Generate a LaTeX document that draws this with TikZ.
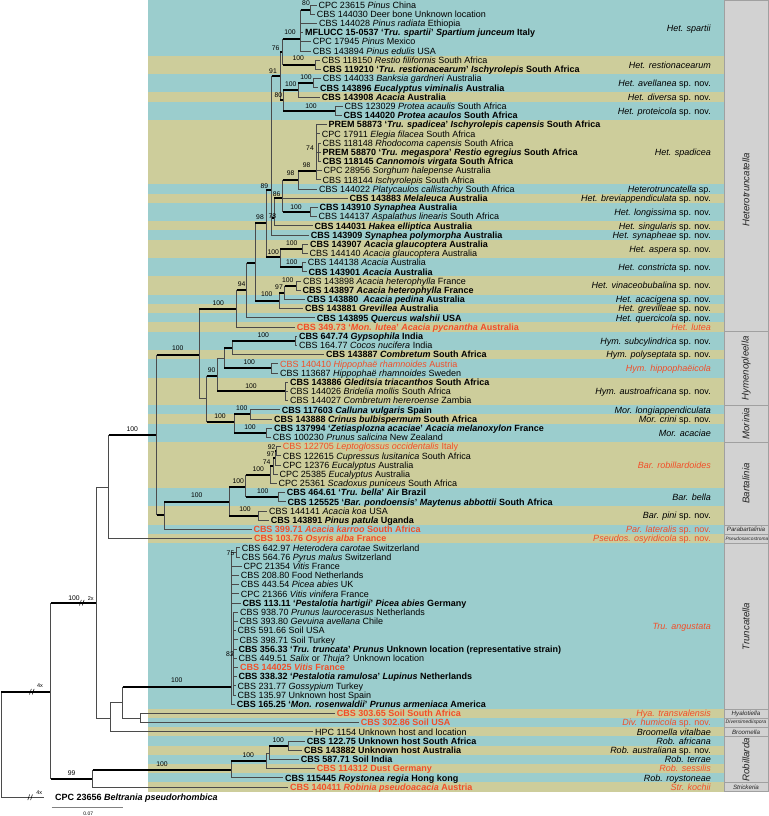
\documentclass[tikz,border=0pt]{standalone}
\usepackage{fontspec}
\setmainfont{Liberation Sans}
\definecolor{bandB}{RGB}{155,205,205}
\definecolor{bandK}{RGB}{205,205,155}
\definecolor{redt}{RGB}{242,78,40}
\definecolor{colg}{RGB}{210,210,210}
\definecolor{colline}{RGB}{160,160,160}
\definecolor{treeg}{RGB}{75,75,75}
\tikzset{
  tl/.style={anchor=base west, inner sep=0pt, font=\fontsize{9}{10}\selectfont},
  gl/.style={anchor=base east, inner sep=0pt, font=\fontsize{9}{10}\selectfont},
  bsl/.style={inner sep=0pt, font=\fontsize{6.8}{7}\selectfont},
  tk/.style={line width=2pt, black},
  tn/.style={line width=0.75pt, treeg},
  gen/.style={inner sep=0pt, font=\fontsize{9.7}{10}\selectfont\itshape, text=black!85},
  gens/.style={inner sep=0pt, font=\fontsize{6.2}{7}\selectfont\itshape, text=black!85},
  smallx/.style={inner sep=0pt, font=\fontsize{5.5}{6}\selectfont}
}
\newcommand\tax[3]{%
  \pgfmathsetmacro\ry{5+(#1-1)*9.2}%
  \node[tl] (t#1) at (#2,\ry+3.2) {#3};%
  \coordinate (p#1) at (#2-1.6,\ry);}
\newcommand\grp[4][black]{%
  \pgfmathsetmacro\gy{5+((#2+#3)/2-1)*9.2}%
  \node[gl,text=#1] (g#2) at (711,\gy+3.2) {#4};}
\newcommand\kband[2]{\fill[bandK] (147.7,{0.4+(#1-1)*9.2}) rectangle (724.3,{0.4+#2*9.2});}
\newcommand\gbox[2]{\draw[fill=colg, draw=colline, line width=0.6pt] (724.3,{0.4+(#1-1)*9.2}) rectangle (768.5,{0.4+#2*9.2});}
\newcommand\bsv[4]{\node[bsl] (b#1) at (#2,#3) {#4};}
\newcommand\thn[2]{\draw[tn] (#1) |- (#2);}
\newcommand\thk[2]{\draw[tn] (#1) -- (#1 |- #2); \draw[tk] (#1 |- #2) -- (#2);}
\newcommand\brk[2]{\draw[black, line width=0.5pt] (#1-2.2,#2+2.8) -- (#1-0.4,#2-2.8) (#1+0.6,#2+2.8) -- (#1+2.4,#2-2.8);}
\newcommand\snov{ sp. nov.}
\begin{document}
\begin{tikzpicture}[x=1pt,y=-1pt]
\useasboundingbox (0,0) rectangle (768,816);
% bands
\fill[bandB] (147.7,0.4) rectangle (724.3,791.6);
\kband{7}{8}\kband{11}{11}\kband{14}{20}\kband{22}{22}\kband{25}{25}
\kband{27}{28}\kband{31}{32}\kband{34}{34}\kband{36}{36}\kband{39}{39}
\kband{42}{44}\kband{46}{46}\kband{49}{53}\kband{56}{57}\kband{59}{59}
\kband{78}{78}\kband{80}{80}\kband{82}{82}\kband{84}{84}\kband{86}{86}
% genus column
\gbox{1}{36}\gbox{37}{44}\gbox{45}{48}\gbox{49}{57}\gbox{58}{58}\gbox{59}{59}
\gbox{60}{77}\gbox{78}{78}\gbox{79}{79}\gbox{80}{80}\gbox{81}{85}\gbox{86}{86}
\node[gen, rotate=90] (gHet) at (746,190) {Heterotruncatella};
\node[gen, rotate=90] (gHym) at (746,368.5) {Hymenopleella};
\node[gen, rotate=90] (gMor) at (746,423.6) {Morinia};
\node[gen, rotate=90] (gBar) at (746,483.6) {Bartalinia};
\node[gen, rotate=90] (gTru) at (746,626.4) {Truncatella};
\node[gen, rotate=90] (gRob) at (746,759.8) {Robillarda};
\node[gens] (gPar) at (746,529.4) {Parabartalinia};
\node[gens, font=\fontsize{4.8}{5}\selectfont\itshape, anchor=west] (gPse) at (725.3,538.6) {Pseudosarcostroma};
\node[gens] (gHya) at (746,713.4) {Hyalotiella};
\node[gens, font=\fontsize{5.1}{6}\selectfont\itshape] (gDiv) at (746,722.6) {Diversimediispora};
\node[gens] (gBro) at (746,731.8) {Broomella};
\node[gens] (gStr) at (746,787) {Strickeria};
% taxa
\tax{1}{318.3}{CPC 23615 \textit{Pinus} China}
\tax{2}{316.7}{CBS 144030 Deer bone Unknown location}
\tax{3}{319}{CBS 144028 \textit{Pinus radiata} Ethiopia}
\tax{4}{305}{\textbf{MFLUCC 15-0537 ‘\textit{Tru. spartii}’ \textit{Spartium junceum} Italy}}
\tax{5}{312.7}{CPC 17945 \textit{Pinus} Mexico}
\tax{6}{312.7}{CBS 143894 \textit{Pinus edulis} USA}
\tax{7}{321.7}{CBS 118150 \textit{Restio filiformis} South Africa}
\tax{8}{322.7}{\textbf{CBS 119210 ‘\textit{Tru. restionacearum}’ \textit{Ischyrolepis} South Africa}}
\tax{9}{322.7}{CBS 144033 \textit{Banksia gardneri} Australia}
\tax{10}{320}{\textbf{CBS 143896 \textit{Eucalyptus viminalis} Australia}}
\tax{11}{321.7}{\textbf{CBS 143908 \textit{Acacia} Australia}}
\tax{12}{344.3}{CBS 123029 \textit{Protea acaulis} South Africa}
\tax{13}{343.3}{\textbf{CBS 144020 \textit{Protea acaulos} South Africa}}
\tax{14}{328.3}{\textbf{PREM 58873 ‘\textit{Tru. spadicea}’ \textit{Ischyrolepis capensis} South Africa}}
\tax{15}{321.7}{CPC 17911 \textit{Elegia filacea} South Africa}
\tax{16}{322.3}{CBS 118148 \textit{Rhodocoma capensis} South Africa}
\tax{17}{322.3}{\textbf{PREM 58870 ‘\textit{Tru. megaspora}’ \textit{Restio egregius} South Africa}}
\tax{18}{322.3}{\textbf{CBS 118145 \textit{Cannomois virgata} South Africa}}
\tax{19}{323.3}{CPC 28956 \textit{Sorghum halepense} Australia}
\tax{20}{322.3}{CBS 118144 \textit{Ischyrolepis} South Africa}
\tax{21}{319}{CBS 144022 \textit{Platycaulos callistachy} South Africa}
\tax{22}{349.3}{\textbf{CBS 143883 \textit{Melaleuca} Australia}}
\tax{23}{319.3}{\textbf{CBS 143910 \textit{Synaphea} Australia}}
\tax{24}{318.3}{CBS 144137 \textit{Aspalathus linearis} South Africa}
\tax{25}{314.3}{\textbf{CBS 144031 \textit{Hakea elliptica} Australia}}
\tax{26}{310.7}{\textbf{CBS 143909 \textit{Synaphea polymorpha} Australia}}
\tax{27}{310}{\textbf{CBS 143907 \textit{Acacia glaucoptera} Australia}}
\tax{28}{309.3}{CBS 144140 \textit{Acacia glaucoptera} Australia}
\tax{29}{307.7}{CBS 144138 \textit{Acacia} Australia}
\tax{30}{308.3}{\textbf{CBS 143901 \textit{Acacia} Australia}}
\tax{31}{303}{CBS 143898 \textit{Acacia heterophylla} France}
\tax{32}{302.3}{\textbf{CBS 143897 \textit{Acacia heterophylla} France}}
\tax{33}{306.7}{\textbf{CBS 143880 \ \textit{Acacia pedina} Australia}}
\tax{34}{305}{\textbf{CBS 143881 \textit{Grevillea} Australia}}
\tax{35}{316.7}{\textbf{CBS 143895 \textit{Quercus walshii} USA}}
\tax{36}{296.7}{\color{redt}\textbf{CBS 349.73 ‘\textit{Mon. lutea}’ \textit{Acacia pycnantha} Australia}}
\tax{37}{299}{\textbf{CBS 647.74 \textit{Gypsophila} India}}
\tax{38}{299}{CBS 164.77 \textit{Cocos nucifera} India}
\tax{39}{326}{\textbf{CBS 143887 \textit{Combretum} South Africa}}
\tax{40}{280}{\color{redt}CBS 140410 \textit{Hippophaë rhamnoides} Austria}
\tax{41}{280}{CBS 113687 \textit{Hippophaë rhamnoides} Sweden}
\tax{42}{290}{\textbf{CBS 143886 \textit{Gleditsia triacanthos} South Africa}}
\tax{43}{290}{CBS 144026 \textit{Bridelia mollis} South Africa}
\tax{44}{290}{CBS 144027 \textit{Combretum hereroense} Zambia}
\tax{45}{281.7}{\textbf{CBS 117603 \textit{Calluna vulgaris} Spain}}
\tax{46}{274}{\textbf{CBS 143888 \textit{Crinus bulbispermum} South Africa}}
\tax{47}{274}{\textbf{CBS 137994 ‘\textit{Zetiasplozna acaciae}’ \textit{Acacia melanoxylon} France}}
\tax{48}{272.7}{CBS 100230 \textit{Prunus salicina} New Zealand}
\tax{49}{282.7}{\color{redt}CBS 122705 \textit{Leptoglossus occidentalis} Italy}
\tax{50}{282.7}{CBS 122615 \textit{Cupressus lusitanica} South Africa}
\tax{51}{282.7}{CPC 12376 \textit{Eucalyptus} Australia}
\tax{52}{279.3}{CPC 25385 \textit{Eucalyptus} Australia}
\tax{53}{278.3}{CPC 25361 \textit{Scadoxus puniceus} South Africa}
\tax{54}{286.7}{\textbf{CBS 464.61 ‘\textit{Tru. bella}’ Air Brazil}}
\tax{55}{287.3}{\textbf{CBS 125525 ‘\textit{Bar. pondoensis}’ \textit{Maytenus abbottii} South Africa}}
\tax{56}{269}{CBS 144141 \textit{Acacia koa} USA}
\tax{57}{270.7}{\textbf{CBS 143891 \textit{Pinus patula} Uganda}}
\tax{58}{253.3}{\color{redt}\textbf{CBS 399.71 \textit{Acacia karroo} South Africa}}
\tax{59}{254}{\color{redt}\textbf{CBS 103.76 \textit{Osyris alba} France}}
\tax{60}{241.7}{CBS 642.97 \textit{Heterodera carotae} Switzerland}
\tax{61}{241.7}{CBS 564.76 \textit{Pyrus malus} Switzerland}
\tax{62}{243.3}{CPC 21354 \textit{Vitis} France}
\tax{63}{240.7}{CBS 208.80 Food Netherlands}
\tax{64}{240.7}{CBS 443.54 \textit{Picea abies} UK}
\tax{65}{240.7}{CPC 21366 \textit{Vitis vinifera} France}
\tax{66}{242.3}{\textbf{CBS 113.11 ‘\textit{Pestalotia hartigii}’ \textit{Picea abies} Germany}}
\tax{67}{240}{CBS 938.70 \textit{Prunus laurocerasus} Netherlands}
\tax{68}{239.3}{CBS 393.80 \textit{Gevuina avellana} Chile}
\tax{69}{237.3}{CBS 591.66 Soil USA}
\tax{70}{239.3}{CBS 398.71 Soil Turkey}
\tax{71}{238.3}{\textbf{CBS 356.33 ‘\textit{Tru. truncata}’ \textit{Prunus} Unknown location (representative strain)}}
\tax{72}{238.3}{CBS 449.51 \textit{Salix} or \textit{Thuja}? Unknown location}
\tax{73}{240}{\color{redt}\textbf{CBS 144025 \textit{Vitis} France}}
\tax{74}{238.3}{\textbf{CBS 338.32 ‘\textit{Pestalotia ramulosa}’ \textit{Lupinus} Netherlands}}
\tax{75}{237.3}{CBS 231.77 \textit{Gossypium} Turkey}
\tax{76}{237.3}{CBS 135.97 Unknown host Spain}
\tax{77}{236.7}{\textbf{CBS 165.25 ‘\textit{Mon. rosenwaldii}’ \textit{Prunus armeniaca} America}}
\tax{78}{336.7}{\color{redt}\textbf{CBS 303.65 Soil South Africa}}
\tax{79}{360.7}{\color{redt}\textbf{CBS 302.86 Soil USA}}
\tax{80}{315}{HPC 1154 Unknown host and location}
\tax{81}{306.7}{\textbf{CBS 122.75 Unknown host South Africa}}
\tax{82}{304}{\textbf{CBS 143882 Unknown host Australia}}
\tax{83}{300.7}{\textbf{CBS 587.71 Soil India}}
\tax{84}{316.7}{\color{redt}\textbf{CBS 114312 Dust Germany}}
\tax{85}{285}{\textbf{CBS 115445 \textit{Roystonea regia} Hong kong}}
\tax{86}{290}{\color{redt}\textbf{CBS 140411 \textit{Robinia pseudoacacia} Austria}}
\node[tl] (t87) at (55,800.5) {\textbf{CPC 23656 \textit{Beltrania pseudorhombica}}};
\coordinate (p87) at (44,797.3);
% species labels
\grp{1}{6}{\textit{Het. spartii}}
\grp{7}{8}{\textit{Het. restionacearum}}
\grp{9}{10}{\textit{Het. avellanea}\snov}
\grp{11}{11}{\textit{Het. diversa}\snov}
\grp{12}{13}{\textit{Het. proteicola}\snov}
\grp{14}{20}{\textit{Het. spadicea}}
\grp{21}{21}{\textit{Heterotruncatella} sp.}
\grp{22}{22}{\textit{Het. breviappendiculata}\snov}
\grp{23}{24}{\textit{Het. longissima}\snov}
\grp{25}{25}{\textit{Het. singularis}\snov}
\grp{26}{26}{\textit{Het. synapheae}\snov}
\grp{27}{28}{\textit{Het. aspera}\snov}
\grp{29}{30}{\textit{Het. constricta}\snov}
\grp{31}{32}{\textit{Het. vinaceobubalina}\snov}
\grp{33}{33}{\textit{Het. acacigena}\snov}
\grp{34}{34}{\textit{Het. grevilleae}\snov}
\grp{35}{35}{\textit{Het. quercicola}\snov}
\grp[redt]{36}{36}{\textit{Het. lutea}}
\grp{37}{38}{\textit{Hym. subcylindrica}\snov}
\grp{39}{39}{\textit{Hym. polyseptata}\snov}
\grp[redt]{40}{41}{\textit{Hym. hippophaëicola}}
\grp{42}{44}{\textit{Hym. austroafricana}\snov}
\grp{45}{45}{\textit{Mor. longiappendiculata}}
\grp{46}{46}{\textit{Mor. crini}\snov}
\grp{47}{48}{\textit{Mor. acaciae}}
\grp[redt]{49}{53}{\textit{Bar. robillardoides}}
\grp{54}{55}{\textit{Bar. bella}}
\grp{56}{57}{\textit{Bar. pini}\snov}
\grp[redt]{58}{58}{\textit{Par. lateralis}\snov}
\grp[redt]{59}{59}{\textit{Pseudos. osyridicola}\snov}
\grp[redt]{60}{77}{\textit{Tru. angustata}}
\grp[redt]{78}{78}{\textit{Hya. transvalensis}}
\grp[redt]{79}{79}{\textit{Div. humicola}\snov}
\grp{80}{80}{\textit{Broomella vitalbae}}
\grp{81}{81}{\textit{Rob. africana}}
\grp{82}{82}{\textit{Rob. australiana}\snov}
\grp{83}{83}{\textit{Rob. terrae}}
\grp[redt]{84}{84}{\textit{Rob. sessilis}}
\grp{85}{85}{\textit{Rob. roystoneae}}
\grp[redt]{86}{86}{\textit{Str. kochii}}
% internal nodes
\coordinate (R) at (1,744.5);
\coordinate (I1) at (50.7,691.7);
\coordinate (I2) at (96.7,602.7);
\coordinate (Rb) at (92.7,779);
\coordinate (I3) at (108.7,487.3);
\coordinate (I4) at (110.7,718.3);
\coordinate (I5) at (156.7,435);
\coordinate (HM) at (199.3,355);
\coordinate (I6) at (164.3,515);
\coordinate (B1) at (229,501.7);
\coordinate (B2) at (245.7,486.7);
\coordinate (B3) at (270,475);
\coordinate (N74) at (273.3,466.2);
\coordinate (N97) at (275,458.1);
\coordinate (N92) at (276.7,451.2);
\coordinate (Bbe) at (278.3,497.2);
\coordinate (B4) at (258.3,515.6);
\coordinate (H0) at (236.7,309.3);
\coordinate (H94) at (246.7,290);
\coordinate (Ha) at (255,263.3);
\coordinate (N98a) at (266,223.3);
\coordinate (AC) at (280,257);
\coordinate (Nasp) at (302.7,248.8);
\coordinate (Ncon) at (302.7,267.2);
\coordinate (N100h) at (279,300.7);
\coordinate (N97h) at (284.5,292.5);
\coordinate (Nvin) at (296.7,285.6);
\coordinate (N89) at (271.7,190);
\coordinate (N91) at (280,76);
\coordinate (N76) at (282.7,52);
\coordinate (hP) at (300.7,39.3);
\coordinate (hA) at (310.7,9.6);
\coordinate (Nres) at (315.7,64.8);
\coordinate (N80) at (283.3,100);
\coordinate (Nav) at (298.3,90);
\coordinate (Nav2) at (313.3,83.2);
\coordinate (Npro) at (335.7,110.8);
\coordinate (N78) at (274.3,218);
\coordinate (N86) at (282.7,198.3);
\coordinate (Nlon) at (310.7,212);
\coordinate (N98u) at (298.3,180);
\coordinate (S) at (316,171);
\coordinate (S74) at (318.3,152.2);
\coordinate (HymMor) at (206.7,398.3);
\coordinate (Hy) at (217.3,375.5);
\coordinate (HyB) at (224,358.3);
\coordinate (HyA) at (232.3,348.3);
\coordinate (Nsub) at (295.7,340.8);
\coordinate (Nhip) at (271,368.4);
\coordinate (Nau) at (285,391.4);
\coordinate (Mo) at (234,421.7);
\coordinate (Nlc) at (250,414.4);
\coordinate (Nac) at (266.7,432.8);
\coordinate (I7) at (122.7,702.7);
\coordinate (I8) at (140,718);
\coordinate (T) at (231.5,686.7);
\coordinate (T75) at (236,552.4);
\coordinate (T82) at (233.3,654);
\coordinate (Rb2) at (231,770);
\coordinate (Rb3) at (266,761);
\coordinate (Rb3b) at (269.3,753.3);
\coordinate (Rb4) at (288.3,745.6);
% edges
\thk{R}{I1} \thn{R}{p87}
\thk{I1}{I2} \thk{I1}{Rb}
\thn{I2}{I3} \thn{I2}{I4}
\thk{I3}{I5} \thn{I3}{p59}
\thk{I5}{HM} \thk{I5}{I6}
\thk{I6}{B1} \thn{I6}{p58}
\thk{B1}{B2} \thk{B1}{B4}
\thk{B2}{B3} \thk{B2}{Bbe}
\thk{B3}{N74} \thn{B3}{p53}
\thk{N74}{N97} \thn{N74}{p52}
\thk{N97}{N92} \thn{N97}{p51}
\thn{N92}{p49} \thn{N92}{p50}
\thn{Bbe}{p54} \thn{Bbe}{p55}
\thn{B4}{p56} \thn{B4}{p57}
\thk{HM}{H0} \thn{HM}{HymMor}
\thk{H0}{H94} \thn{H0}{p36}
\thk{H94}{Ha} \thn{H94}{p35}
\thk{Ha}{N98a} \thk{Ha}{N100h}
\thk{N98a}{N89} \thk{N98a}{AC}
\thk{AC}{Nasp} \thk{AC}{Ncon}
\thn{Nasp}{p27} \thn{Nasp}{p28}
\thn{Ncon}{p29} \thn{Ncon}{p30}
\thk{N100h}{N97h} \thn{N100h}{p34}
\thk{N97h}{Nvin} \thn{N97h}{p33}
\thn{Nvin}{p31} \thn{Nvin}{p32}
\thk{N89}{N91} \thk{N89}{N78} \thn{N89}{p26}
\thk{N91}{N76} \thk{N91}{N80}
\thk{N76}{hP} \thk{N76}{Nres}
\thk{hP}{hA} \thn{hP}{p3} \thn{hP}{p4} \thn{hP}{p5} \thn{hP}{p6}
\thn{hA}{p1} \thn{hA}{p2}
\thn{Nres}{p7} \thn{Nres}{p8}
\thk{N80}{Nav} \thk{N80}{Npro}
\thk{Nav}{Nav2} \thn{Nav}{p11}
\thn{Nav2}{p9} \thn{Nav2}{p10}
\thn{Npro}{p12} \thn{Npro}{p13}
\thk{N78}{N86} \thn{N78}{p25}
\thk{N86}{N98u} \thn{N86}{p22} \thk{N86}{Nlon}
\thn{Nlon}{p23} \thn{Nlon}{p24}
\thk{N98u}{S} \thn{N98u}{p21}
\thn{S}{p14} \thn{S}{p15} \thn{S}{S74} \thn{S}{p19} \thn{S}{p20}
\thn{S74}{p16} \thn{S74}{p17} \thn{S74}{p18}
\thk{HymMor}{Hy} \thk{HymMor}{Mo}
\thn{Hy}{HyB} \thk{Hy}{Nau}
\thk{HyB}{HyA} \thk{HyB}{Nhip}
\thk{HyA}{Nsub} \thn{HyA}{p39}
\thn{Nsub}{p37} \thn{Nsub}{p38}
\thn{Nhip}{p40} \thn{Nhip}{p41}
\thn{Nau}{p42} \thn{Nau}{p43} \thn{Nau}{p44}
\thk{Mo}{Nlc} \thk{Mo}{Nac}
\thn{Nlc}{p45} \thn{Nlc}{p46}
\thn{Nac}{p47} \thn{Nac}{p48}
\thn{I4}{I7} \thn{I4}{p80}
\thk{I7}{T} \thn{I7}{I8}
\thn{I8}{p78} \thn{I8}{p79}
\thn{T}{T75} \thn{T}{p62} \thn{T}{p63} \thn{T}{p64} \thn{T}{p65} \thn{T}{p66} \thn{T}{T82} \thn{T}{p77}
\thn{T75}{p60} \thn{T75}{p61}
\foreach \k in {67,...,76} {\thn{T82}{p\k}}
\thk{Rb}{Rb2} \thn{Rb}{p86}
\thk{Rb2}{Rb3} \thn{Rb2}{p85}
\thn{Rb3}{Rb3b} \thn{Rb3}{p84}
\thk{Rb3b}{Rb4} \thn{Rb3b}{p83}
\thn{Rb4}{p81} \thn{Rb4}{p82}
% bootstrap values
\bsv{I2}{74}{598.3}{100}
\bsv{Rb}{71.7}{773.3}{99}
\bsv{I5}{132.3}{429}{100}
\bsv{HM}{177.7}{348.5}{100}
\bsv{B1}{196.7}{495.5}{100}
\bsv{B2}{238.3}{480.7}{100}
\bsv{B4}{245}{509.5}{100}
\bsv{B3}{258.3}{469}{100}
\bsv{Bbe}{262.7}{491}{100}
\bsv{N74}{266.7}{461.7}{74}
\bsv{N97}{270.7}{454}{97}
\bsv{N92}{271.7}{446.7}{92}
\bsv{H0}{218.3}{302.7}{100}
\bsv{H94}{241.7}{284}{94}
\bsv{N98a}{260}{217.3}{98}
\bsv{AC}{273.3}{251.7}{100}
\bsv{Nasp}{291.7}{243.3}{100}
\bsv{Ncon}{291.7}{261.7}{100}
\bsv{N100h}{266.7}{294.3}{100}
\bsv{N97h}{279}{286.7}{97}
\bsv{Nvin}{287.7}{280.5}{100}
\bsv{N89}{264.3}{186}{89}
\bsv{N91}{273}{71}{91}
\bsv{N76}{275.7}{47.7}{76}
\bsv{hP}{290}{32.5}{100}
\bsv{hA}{306}{3.5}{80}
\bsv{Nres}{298.3}{58.5}{100}
\bsv{N80}{278.3}{95}{80}
\bsv{Nav}{290.7}{84}{100}
\bsv{Nav2}{306}{77}{100}
\bsv{Npro}{311}{106}{100}
\bsv{N78}{272.3}{216}{78}
\bsv{N86}{276.7}{194.5}{86}
\bsv{Nlon}{296}{207}{100}
\bsv{N98u}{290.7}{173.5}{98}
\bsv{S}{306.7}{165}{98}
\bsv{S74}{310}{148.3}{74}
\bsv{Hy}{211.7}{370}{90}
\bsv{Nsub}{263.3}{335}{100}
\bsv{Nhip}{249.3}{362}{100}
\bsv{Nau}{251}{386}{100}
\bsv{Mo}{220}{416}{100}
\bsv{Nlc}{241.7}{408.3}{100}
\bsv{Nac}{250}{427}{100}
\bsv{T}{176.7}{680.5}{100}
\bsv{T75}{230.5}{553}{75}
\bsv{T82}{230}{654}{82}
\bsv{Rb2}{162}{764}{100}
\bsv{Rb3}{248.3}{755}{100}
\bsv{Rb4}{278.3}{740.5}{100}
% breaks
\brk{31.7}{691.7}
\node[smallx] (x1) at (40,686) {4x};
\brk{81.7}{602.7}
\node[smallx] (x2) at (90.7,598.3) {2x};
\brk{30}{797.3}
\node[smallx] (x3) at (39.3,793) {4x};
% scale bar
\draw[line width=0.7pt, gray] (51.7,807.7) coordinate (sb1) -- (123.3,807.7) coordinate (sb2);
\node[smallx, font=\fontsize{5}{6}\selectfont] (sbl) at (88.3,813.3) {0.07};
\end{tikzpicture}
\end{document}
